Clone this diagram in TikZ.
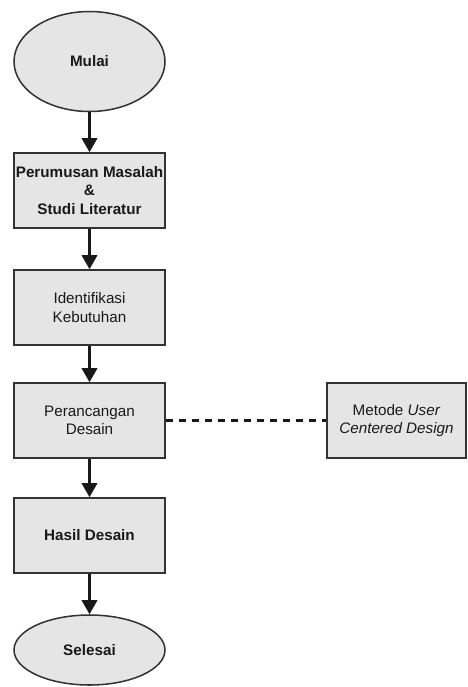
\documentclass[tikz,border=0pt]{standalone}
\usepackage{fontspec}
\setmainfont{Liberation Sans}
\usetikzlibrary{shapes.geometric, arrows.meta}

\begin{document}
\begin{tikzpicture}[x = 0.03cm, y = -0.03cm,
        kotak/.style = {draw = black!80, fill = black!10, line width = 1.3pt,
            minimum width = 4.53cm, minimum height = 2.25cm, inner sep = 0pt,
            align = center, text = black!90, font = \fontsize{13}{15.6}\selectfont},
        terminal/.style = {kotak, ellipse},
        panah/.style = {line width = 2pt, black!90, -{Triangle[length = 0.42cm, width = 0.46cm]}}]

        \useasboundingbox (0, 0) rectangle (467, 687);

        \node[terminal, minimum height = 3cm] (mulai) at (89.5, 61.5) {\bfseries Mulai};
        \node[kotak] (rumusan) at (89.5, 190.5) {\bfseries Perumusan Masalah\\ \bfseries \&\\ \bfseries Studi Literatur};
        \node[kotak] (identifikasi) at (89.5, 307.5) {Identifikasi\\ Kebutuhan};
        \node[kotak] (perancangan) at (89.5, 420.5) {Perancangan\\ Desain};
        \node[kotak] (hasil) at (89.5, 535.5) {\bfseries Hasil Desain};
        \node[terminal, minimum height = 2.1cm] (selesai) at (89.5, 650) {\bfseries Selesai};

        \node[kotak, minimum width = 4.17cm] (metode) at (396.5, 420.5) {Metode \textit{User}\\ \textit{Centered Design}};

        \foreach \a/\b in {mulai/rumusan, rumusan/identifikasi, identifikasi/perancangan, perancangan/hasil, hasil/selesai} {
            \draw[panah] (\a) -- (\b);
        }

        % garis putus-putus ke metode
        \draw[line width = 2pt, black!90, dash pattern = on 0.22cm off 0.17cm] (perancangan) -- (metode);

    \end{tikzpicture}
\end{document}
